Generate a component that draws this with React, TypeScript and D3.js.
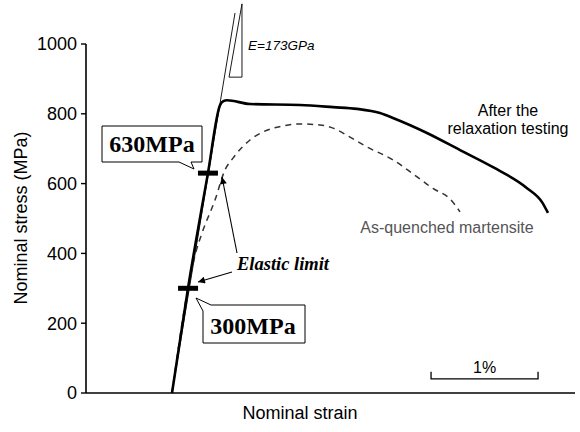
import React from "react";
import * as d3 from "d3";

// ---- Data ----
const yTicks = [0, 200, 400, 600, 800, 1000];

// "After the relaxation testing" (solid)
const relaxStrain = [0, 0.15, 0.336, 0.449, 0.48, 0.514, 0.729, 1.196, 1.505, 1.729, 1.944, 2.065, 2.383, 2.692, 3.0, 3.318, 3.458, 3.514];
const relaxStress = [0, 301, 630, 825, 836, 839, 828, 825, 819, 814, 802, 788, 745, 696, 647, 587, 547, 516];

// "As-quenched martensite" (dashed)
const quenchStrain = [0, 0.15, 0.22, 0.28, 0.402, 0.495, 0.57, 0.729, 0.85, 1.037, 1.196, 1.383, 1.505, 1.664, 1.822, 2.065, 2.252, 2.439, 2.598, 2.692];
const quenchStress = [0, 301, 400, 458, 553, 639, 673, 725, 748, 765, 771, 768, 759, 733, 705, 668, 628, 586, 556, 519];

// Elastic modulus guide line and slope triangle
const modulusStrain = [0, 0.589];
const modulusStress = [0, 1089];
const triangleStrain = [0.533, 0.654, 0.654];
const triangleStress = [905, 1115, 905];

// Elastic limit markers
const limitStress = [300, 630];
const limitStrain = [0.15, 0.336];

// Scale bar (1 % strain)
const scaleBarStrain = [2.421, 3.421];
const scaleBarStress = 55;

const W = 580;
const H = 432;

export default function App() {
  const x = d3.scaleLinear().domain([0, 1]).range([172, 279]);
  const y = d3.scaleLinear().domain([0, 1000]).range([393, 44]);

  const line = d3
    .line<[number, number]>()
    .x((d) => x(d[0]))
    .y((d) => y(d[1]))
    .curve(d3.curveMonotoneX);
  const straight = d3
    .line<[number, number]>()
    .x((d) => x(d[0]))
    .y((d) => y(d[1]));

  const relax = relaxStrain.map((s, i) => [s, relaxStress[i]] as [number, number]);
  const quench = quenchStrain.map((s, i) => [s, quenchStress[i]] as [number, number]);
  const modulus = modulusStrain.map((s, i) => [s, modulusStress[i]] as [number, number]);
  const tri = triangleStrain.map((s, i) => [s, triangleStress[i]] as [number, number]);

  const axisX0 = 86;
  const axisX1 = 575;
  const sans = "'Liberation Sans', Arial, sans-serif";
  const serif = "'Liberation Serif', 'Times New Roman', serif";

  const sbx0 = x(scaleBarStrain[0]);
  const sbx1 = x(scaleBarStrain[1]);
  const sby = y(scaleBarStress) + 5;

  return (
    <svg
      width={W}
      height={H}
      style={{ position: "absolute", left: 0, top: 0, background: "#fff" }}
    >
      <defs>
        <marker id="ah" viewBox="0 0 10 10" refX="10" refY="5" markerWidth="9" markerHeight="7" orient="auto" markerUnits="userSpaceOnUse">
          <path d="M0,0 L10,5 L0,10 z" fill="#000" />
        </marker>
      </defs>
      <rect width={W} height={H} fill="#fff" />

      {/* axes */}
      <line x1={axisX0} x2={axisX0} y1={y(1000)} y2={y(0)} stroke="#000" strokeWidth={1.6} />
      <line x1={axisX0} x2={axisX1} y1={y(0)} y2={y(0)} stroke="#000" strokeWidth={1.6} />
      {yTicks.map((t) => (
        <g key={t}>
          <line x1={axisX0 - 5} x2={axisX0} y1={y(t)} y2={y(t)} stroke="#000" strokeWidth={1.4} />
          <text x={77} y={y(t)} dy="0.36em" textAnchor="end" fontFamily={sans} fontSize={18}>
            {t}
          </text>
        </g>
      ))}
      <text
        transform={`translate(27,${218}) rotate(-90)`}
        textAnchor="middle"
        fontFamily={sans}
        fontSize={18}
      >
        Nominal stress (MPa)
      </text>
      <text x={300} y={419} textAnchor="middle" fontFamily={sans} fontSize={18}>
        Nominal strain
      </text>

      {/* modulus guide */}
      <path d={straight(modulus) || ""} fill="none" stroke="#000" strokeWidth={0.9} />
      <path d={(straight(tri) || "") + "Z"} fill="none" stroke="#000" strokeWidth={0.9} />
      <text x={248} y={50} fontFamily={sans} fontSize={13.5} fontStyle="italic">
        E=173GPa
      </text>

      {/* curves */}
      <path d={line(quench) || ""} fill="none" stroke="#333" strokeWidth={1.5} strokeDasharray="6,5" />
      <path d={line(relax) || ""} fill="none" stroke="#000" strokeWidth={2.6} strokeLinejoin="round" />

      {/* elastic limit markers */}
      {limitStress.map((s, i) => (
        <line
          key={s}
          x1={x(limitStrain[i]) - 10}
          x2={x(limitStrain[i]) + 10}
          y1={y(s)}
          y2={y(s)}
          stroke="#000"
          strokeWidth={5}
        />
      ))}

      {/* callouts */}
      <path
        d="M102,126 H202 V162 H191 L194,169 L179,162 H102 Z"
        fill="#fff"
        stroke="#000"
        strokeWidth={1}
      />
      <text x={152} y={152} textAnchor="middle" fontFamily={serif} fontWeight="bold" fontSize={24}>
        630MPa
      </text>
      <path
        d="M203,343 V311 L196,298 L211,305 H305 V343 Z"
        fill="#fff"
        stroke="#000"
        strokeWidth={1}
      />
      <text x={253} y={334} textAnchor="middle" fontFamily={serif} fontWeight="bold" fontSize={24}>
        300MPa
      </text>

      {/* elastic limit label & arrows */}
      <text x={237} y={270} fontFamily={serif} fontWeight="bold" fontStyle="italic" fontSize={18.5}>
        Elastic limit
      </text>
      <line x1={237} y1={253} x2={222} y2={177} stroke="#000" strokeWidth={1.1} markerEnd="url(#ah)" />
      <line x1={232} y1={272} x2={198} y2={282} stroke="#000" strokeWidth={1.1} markerEnd="url(#ah)" />

      {/* series labels */}
      <text x={508} y={116} textAnchor="middle" fontFamily={sans} fontSize={16}>
        After the
      </text>
      <text x={508} y={134} textAnchor="middle" fontFamily={sans} fontSize={16}>
        relaxation testing
      </text>
      <text x={447} y={233} textAnchor="middle" fontFamily={sans} fontSize={16} fill="#555">
        As-quenched martensite
      </text>

      {/* scale bar */}
      <path
        d={`M${sbx0},${sby - 7} V${sby} H${sbx1} V${sby - 7}`}
        fill="none"
        stroke="#000"
        strokeWidth={1.3}
      />
      <text x={(sbx0 + sbx1) / 2} y={sby - 6} textAnchor="middle" fontFamily={sans} fontSize={16}>
        1%
      </text>
    </svg>
  );
}
